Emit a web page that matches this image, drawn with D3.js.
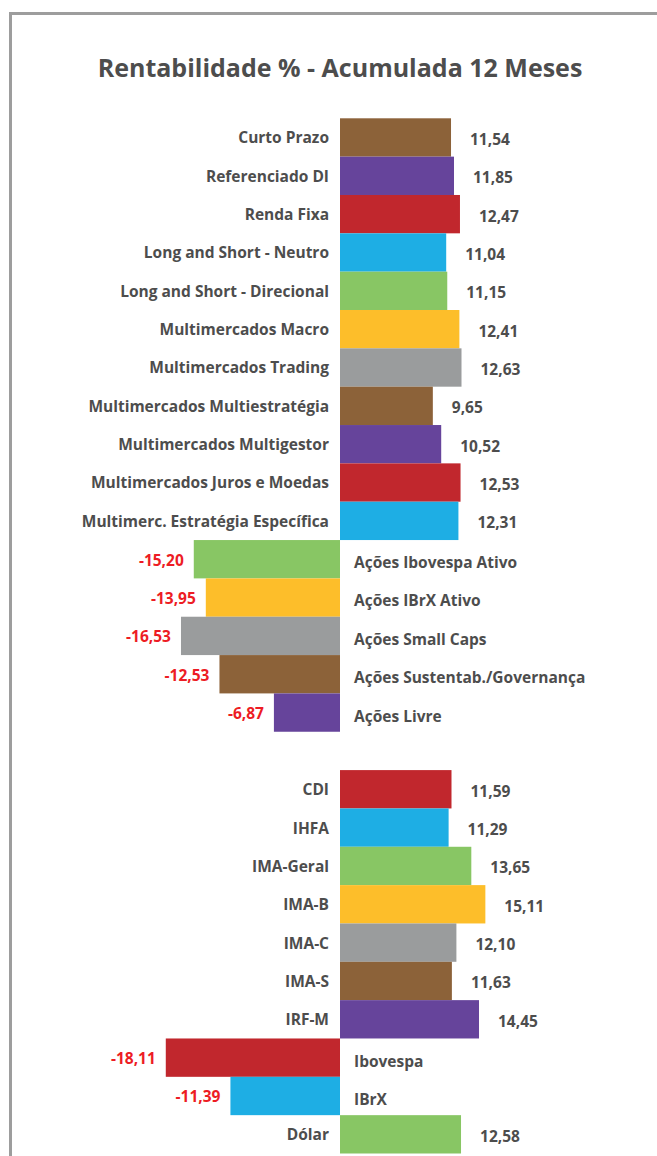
<!DOCTYPE html>
<html>
<head>
<meta charset="utf-8">
<script src="https://cdn.jsdelivr.net/npm/d3@7"></script>
<style>
  body { margin: 0; background: #fff; }
  svg { display: block; font-family: "Open Sans", sans-serif; font-weight: 700; }
</style>
</head>
<body>
<svg id="chart" width="657" height="1156"></svg>
<script>
// fundos (bloco de cima)
const fundos = ["Curto Prazo", "Referenciado DI", "Renda Fixa", "Long and Short - Neutro",
    "Long and Short - Direcional", "Multimercados Macro", "Multimercados Trading",
    "Multimercados Multiestratégia", "Multimercados Multigestor", "Multimercados Juros e Moedas",
    "Multimerc. Estratégia Específica", "Ações Ibovespa Ativo", "Ações IBrX Ativo",
    "Ações Small Caps", "Ações Sustentab./Governança", "Ações Livre"];
const fundosValores = [11.54, 11.85, 12.47, 11.04, 11.15, 12.41, 12.63, 9.65, 10.52, 12.53, 12.31,
    -15.20, -13.95, -16.53, -12.53, -6.87];

// indices (bloco de baixo)
const indices = ["CDI", "IHFA", "IMA-Geral", "IMA-B", "IMA-C", "IMA-S", "IRF-M", "Ibovespa", "IBrX", "Dólar"];
const indicesValores = [11.59, 11.29, 13.65, 15.11, 12.10, 11.63, 14.45, -18.11, -11.39, 12.58];

const colors = ["#8C6239", "#66449B", "#C1272D", "#1EAEE4", "#88C664", "#FDBE2A", "#9A9C9D"];
const titulo = "Rentabilidade % - Acumulada 12 Meses";

const svg = d3.select("#chart");

// moldura cinza (só topo e esquerda aparecem)
svg.append("path")
    .attr("d", "M10.5,1156 V13.5 H657")
    .attr("fill", "none")
    .attr("stroke", "#9d9d9d")
    .attr("stroke-width", 3);

svg.append("text")
    .attr("x", 340)
    .attr("y", 77)
    .attr("text-anchor", "middle")
    .attr("font-size", 25)
    .attr("fill", "#4D4D4D")
    .text(titulo);

// junta tudo, com uma linha vazia entre os blocos
const rows = [];
fundos.forEach((n, i) => rows.push({ key: "f" + i, name: n, value: fundosValores[i] }));
const gapKey = "gap";
indices.forEach((n, i) => rows.push({ key: "i" + i, name: n, value: indicesValores[i] }));
rows.forEach((r, i) => r.color = colors[i % colors.length]);

const keys = rows.map(r => r.key);
keys.splice(fundos.length, 0, gapKey);

const y = d3.scaleBand().domain(keys).range([118.3, 1153.5]).padding(0);
const x = d3.scaleLinear().domain([-20, 20]).range([147.6, 532.4]);

const locale = d3.formatLocale({ decimal: ",", thousands: ".", grouping: [3], currency: ["R$", ""], minus: "-" });
const fmt = locale.format(".2f");

const g = svg.append("g");

g.selectAll("rect.bar")
    .data(rows)
    .join("rect")
    .attr("class", "bar")
    .attr("x", d => x(Math.min(0, d.value)))
    .attr("width", d => Math.abs(x(d.value) - x(0)))
    .attr("y", d => y(d.key))
    .attr("height", y.bandwidth())
    .attr("fill", d => d.color);

// nomes das categorias
g.selectAll("text.cat")
    .data(rows)
    .join("text")
    .attr("class", "cat")
    .attr("x", d => d.value >= 0 ? x(0) - 11 : x(0) + 14)
    .attr("y", d => y(d.key) + y.bandwidth() / 2 + (d.value >= 0 ? 0.5 : 3.5))
    .attr("dy", "0.35em")
    .attr("text-anchor", d => d.value >= 0 ? "end" : "start")
    .attr("font-size", 15.5)
    .attr("fill", "#4D4D4D")
    .text(d => d.name);

// valores
g.selectAll("text.val")
    .data(rows)
    .join("text")
    .attr("class", "val")
    .attr("x", d => d.value >= 0 ? x(d.value) + 19 : x(d.value) - 10)
    .attr("y", d => y(d.key) + y.bandwidth() / 2 + (d.value >= 0 ? 2 : 1))
    .attr("dy", "0.35em")
    .attr("text-anchor", d => d.value >= 0 ? "start" : "end")
    .attr("font-size", 15.5)
    .attr("fill", d => d.value >= 0 ? "#4D4D4D" : "#ED1C24")
    .text(d => fmt(d.value));
</script>
</body>
</html>
